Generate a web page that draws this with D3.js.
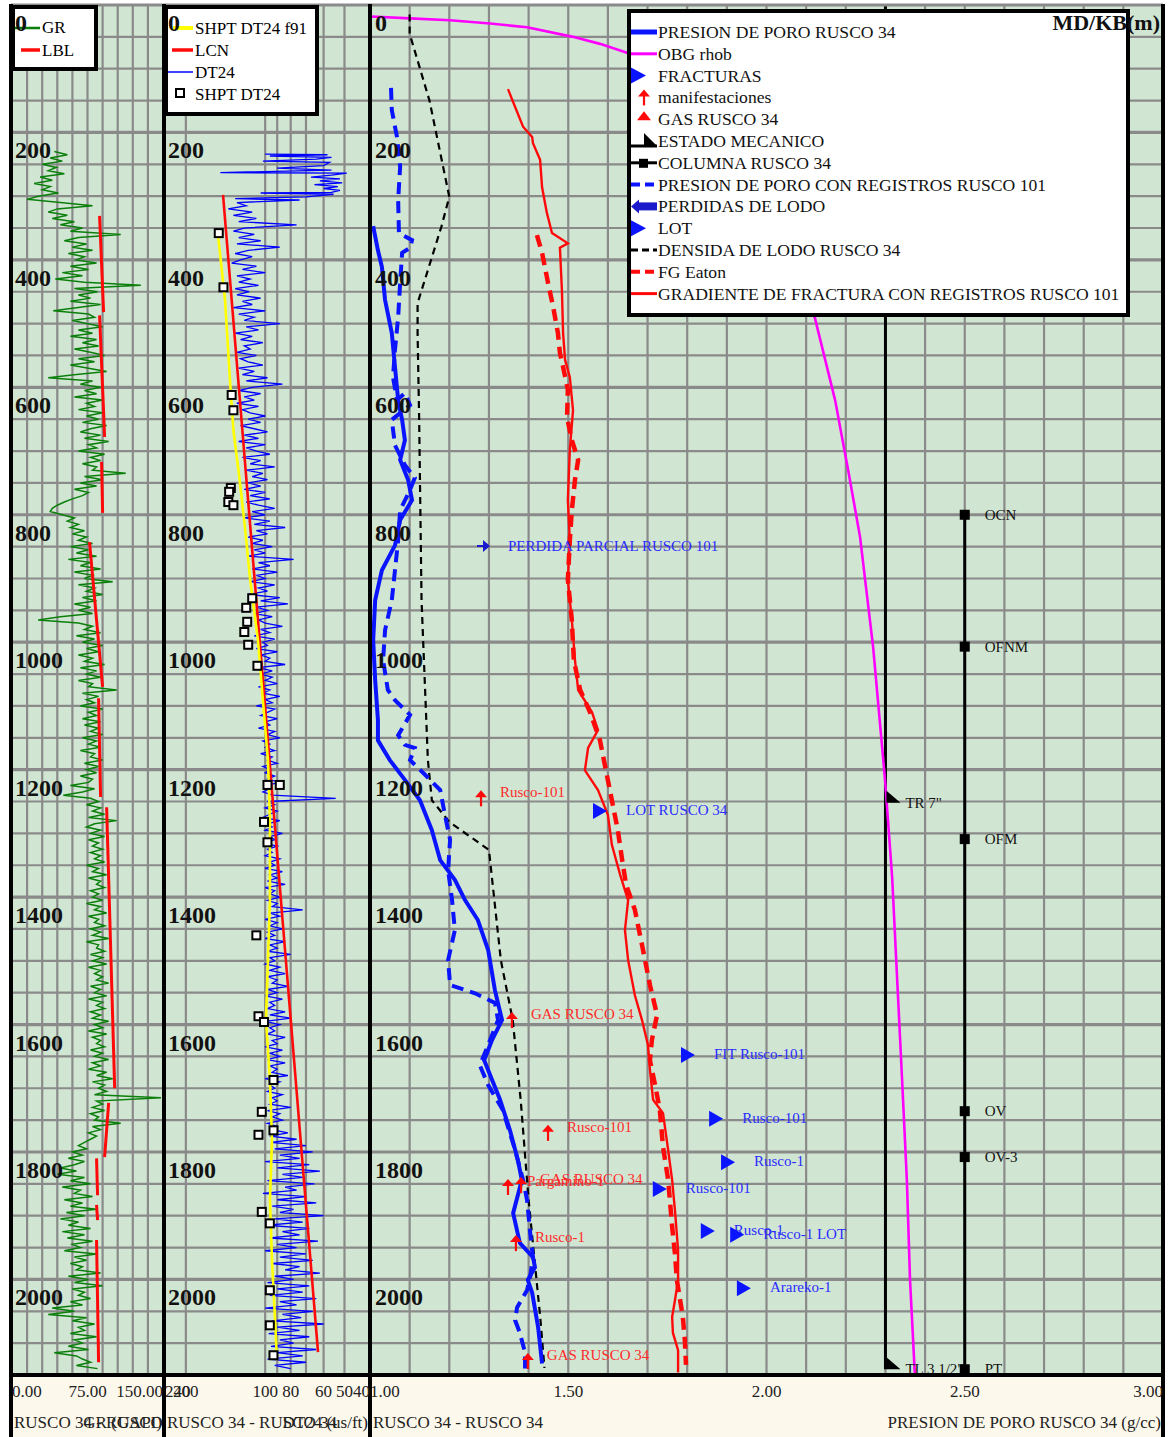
<!DOCTYPE html>
<html><head><meta charset="utf-8">
<script src="https://cdn.jsdelivr.net/npm/d3@7"></script>
<style>
body{margin:0;background:#fff;}
svg{display:block;font-family:"Liberation Serif","Times New Roman",serif;}
</style></head><body>
<svg id="chart" width="1171" height="1437"></svg>
<script>
// ---------- depth axis ----------
const depthLabels = [0,200,400,600,800,1000,1200,1400,1600,1800,2000];

// ---------- track 1 : gamma ray (sampled every 5 m from 230 m) ----------
const grStartDepth = 230, grStep = 5;
const grValues = [
 42,55,38,50,30,44,36,52,28,40,22,38,30,46,26,15,48,80,45,36,
 55,40,62,48,70,58,108,66,52,74,60,80,56,72,64,84,58,76,50,70,
 43,72,128,62,85,66,78,58,88,64,41,76,82,60,74,90,66,80,58,84,
 70,86,62,78,92,66,82,58,76,94,64,36,80,68,88,72,84,62,90,74,
 82,66,90,74,86,70,94,78,68,88,72,96,76,84,66,92,78,88,70,84,
 80,113,72,90,68,84,62,76,70,60,52,45,40,38,50,62,55,66,58,72,
 60,74,66,80,58,76,64,84,56,78,68,88,62,80,72,100,66,82,74,90,
 70,84,62,78,66,80,48,26,66,80,72,88,64,82,70,90,74,86,66,80,
 72,92,68,84,74,88,66,80,76,104,70,86,74,82,68,90,76,84,70,88,
 72,86,78,90,70,84,76,88,68,82,78,90,72,86,74,84,68,80,76,58,
 82,70,51,78,86,74,88,80,92,76,104,82,74,88,78,92,76,86,80,90,
 78,88,82,92,74,86,80,94,76,88,84,92,78,86,80,90,74,88,82,94,
 76,86,82,92,78,88,80,96,74,86,84,92,78,90,80,94,76,88,82,90,
 84,96,78,88,82,94,76,90,84,92,78,88,80,96,82,90,76,94,80,88,
 84,92,78,90,82,96,80,88,76,94,84,100,80,92,86,94,82,148,84,90,
 80,92,78,86,82,108,80,88,76,84,78,72,66,74,60,70,56,72,62,48,
 64,45,72,58,78,50,68,62,80,52,70,58,84,54,72,48,66,56,78,50,
 72,55,80,60,68,52,84,62,74,58,70,64,88,56,76,62,90,60,72,66,
 78,58,70,40,62,36,74,60,82,66,72,58,84,62,70,56,76,42,64,70,
 78,64,85];
// LBL segments: [depth top, value top, depth bottom, value bottom]
const lblSegments = [[331,87,482,91],[487,87,678,92],[717,89,797,90],[843,77,1070,90],[1088,86,1243,88],[1259,94,1700,102],[1723,96,1808,92],[1810,84,1868,85],[1883,84,1907,85],[1938,84,2130,86]];
const grTicks = [0,75,150];

// ---------- track 2 : sonic ----------
const dtTopData = [[234,100],[235,58],[237,96],[239,56],[242,64],[245,102],[247,57],[252,60],[256,90],[259,56],[263,148],[264,49],[267,56],[270,67],[273,52],[276,62],[279,51],[282,65],[285,53],[288,60],[291,52],[294,56],[295,104],[297,55],[301,70],[304,130],[306,74],[310,128],[315,118],[320,138],[325,112],[330,132],[335,108],[340,126],[345,76]];
const dtStartDepth = 350, dtStep = 5;
const dtValues = [
 120,132,110,126,104,128,88,116,130,112,124,134,108,122,100,128,114,126,106,130,
 115,128,104,122,112,132,100,126,110,120,88,118,106,130,112,124,102,120,114,128,
 108,124,116,102,126,110,122,98,118,86,112,126,104,120,110,128,106,122,114,100,
 116,104,124,110,98,120,106,126,100,118,108,96,122,104,114,92,118,102,112,98,
 116,104,120,100,114,96,118,106,92,112,100,120,96,110,84,108,98,116,102,112,
 94,110,100,116,78,106,96,112,90,108,100,114,92,106,98,116,88,104,82,108,
 98,110,94,106,100,86,104,96,110,92,102,98,108,90,104,96,100,84,106,94,
 104,94,100,90,106,96,102,88,100,94,108,92,98,104,90,100,96,106,92,98,
 88,102,96,100,92,104,94,98,90,102,96,100,92,98,88,100,96,102,94,54,
 98,92,100,90,96,102,88,98,94,100,86,96,92,102,90,98,94,100,88,96,
 92,100,86,96,90,98,84,100,92,96,88,98,90,94,72,96,88,100,90,96,
 86,98,92,100,84,96,90,98,80,96,92,100,88,96,84,98,90,94,82,98,
 90,100,86,96,92,98,84,96,80,100,88,96,92,98,84,94,90,100,86,96,
 88,98,84,96,90,94,82,100,88,96,92,98,86,94,90,96,80,98,88,94,
 86,98,90,94,82,96,76,
 95,70,92,66,88,74,100,68,90,62,86,72,98,65,84,76,102,70,90,64,94,78,88,60,92,72,99,68,86,74,96,63,90,76,100,70,
 88,66,94,74,84,62,92,78,98,68,90,72,96,64,88,76,100,66,86,73,94,60,90,74,97,68,88,78,95,64,90,72,98,70,92,80];
const lcnTrend = [[298,144.5],[2114,63]];
const shptF91 = [[361,151],[463,142],[589,136],[667,132],[745,125],[824,119],[902,114],[997,106.5],[1091,102],[1185,97.6],[1279,95.9],[1405,95.9],[1499,97.6],[1593,99.3],[1687,95.9],[1781,94.2],[1875,95.9],[1970,94.2],[2064,91.7],[2127,90.2]];
const shptPoints = [[358,150],[443,144],[612,134],[636,132],[758,135],[764,137],[780,138],[785,132],[931,112],[946,118],[968,117],[984,120],[1004,116],[1037,107],[1224,98],[1224,88],[1282,101],[1314,98],[1460,108],[1587,106],[1596,101],[1687,93],[1737,103],[1766,93],[1773,106],[1894,103],[1912,96],[2017,96],[2072,96],[2119,93]];
const dtTicks = [240,200,100,80,60,50,40];
const dtGrid = [200,100,90,80,70,60,50];

// ---------- track 3 : pressure gradients (g/cc) ----------
const obgRhob = [[18,1.000],[21,1.101],[24,1.202],[29,1.303],[35,1.396],[50,1.512],[61,1.580],[75,1.648],[100,1.73],[150,1.83],[200,1.89],[250,1.94],[300,1.98],[350,2.02],[400,2.05],[450,2.08],[491,2.122],[620,2.173],[730,2.206],[835,2.236],[1008,2.269],[1216,2.299],[1370,2.317],[1687,2.342],[1844,2.354],[2001,2.362],[2147,2.374]];
const porePressure34 = [[347,1.008],[385,1.020],[411,1.030],[463,1.038],[515,1.055],[568,1.063],[620,1.071],[651,1.081],[683,1.088],[714,1.076],[745,1.096],[777,1.106],[808,1.076],[848,1.063],[887,1.030],[934,1.013],[997,1.008],[1059,1.013],[1122,1.020],[1154,1.020],[1185,1.050],[1216,1.088],[1248,1.126],[1295,1.156],[1342,1.177],[1373,1.214],[1405,1.240],[1436,1.272],[1483,1.298],[1546,1.315],[1593,1.333],[1624,1.308],[1656,1.288],[1687,1.308],[1718,1.328],[1766,1.353],[1813,1.373],[1844,1.383],[1896,1.361],[1943,1.378],[1965,1.411],[1981,1.416],[2001,1.398],[2021,1.409],[2075,1.424],[2132,1.434]];
const porePressure101 = [[130,1.053],[165,1.055],[207,1.068],[254,1.076],[306,1.071],[358,1.073],[369,1.106],[381,1.101],[389,1.081],[436,1.076],[490,1.071],[541,1.063],[584,1.058],[620,1.068],[609,1.088],[628,1.101],[651,1.055],[691,1.063],[722,1.088],[742,1.113],[761,1.101],[793,1.076],[840,1.071],[887,1.063],[934,1.055],[981,1.038],[1028,1.033],[1075,1.045],[1091,1.063],[1114,1.101],[1146,1.071],[1161,1.088],[1166,1.113],[1185,1.101],[1208,1.139],[1232,1.177],[1271,1.189],[1310,1.202],[1358,1.197],[1405,1.207],[1452,1.214],[1499,1.197],[1538,1.202],[1551,1.265],[1566,1.315],[1593,1.323],[1632,1.298],[1664,1.277],[1695,1.298],[1734,1.335],[1797,1.366],[1844,1.386],[1875,1.396],[1927,1.404],[1965,1.411],[1996,1.404],[2017,1.396],[2044,1.371],[2064,1.366],[2084,1.378],[2115,1.391],[2146,1.391]];
const mudDensity34 = [[15,1.10],[45,1.10],[150,1.15],[301,1.20],[348,1.18],[468,1.12],[515,1.12],[651,1.124],[934,1.13],[1091,1.14],[1185,1.146],[1248,1.156],[1282,1.20],[1326,1.30],[1499,1.33],[1593,1.36],[1718,1.38],[1875,1.40],[2064,1.43],[2139,1.44]];
const fracGradient101 = [[132,1.348],[191,1.386],[207,1.409],[217,1.411],[243,1.429],[286,1.434],[326,1.446],[358,1.459],[374,1.499],[381,1.479],[447,1.484],[515,1.487],[557,1.492],[584,1.504],[636,1.512],[698,1.504],[777,1.499],[840,1.504],[902,1.499],[965,1.509],[1028,1.517],[1075,1.525],[1110,1.560],[1138,1.575],[1166,1.550],[1201,1.542],[1232,1.575],[1271,1.600],[1318,1.610],[1365,1.631],[1405,1.651],[1452,1.643],[1499,1.651],[1554,1.668],[1593,1.686],[1632,1.701],[1671,1.706],[1718,1.714],[1739,1.739],[1797,1.752],[1844,1.762],[1891,1.769],[1954,1.777],[2001,1.777],[2033,1.769],[2059,1.762],[2084,1.764],[2111,1.777],[2146,1.777]];
const fgEaton = [[361,1.421],[389,1.434],[436,1.449],[474,1.462],[515,1.474],[546,1.479],[568,1.487],[604,1.499],[647,1.497],[683,1.509],[714,1.525],[745,1.517],[793,1.509],[840,1.504],[902,1.499],[965,1.509],[1028,1.514],[1075,1.530],[1110,1.555],[1154,1.580],[1201,1.595],[1248,1.610],[1295,1.625],[1342,1.636],[1381,1.646],[1420,1.668],[1475,1.686],[1538,1.706],[1585,1.724],[1624,1.711],[1656,1.706],[1695,1.719],[1734,1.731],[1792,1.739],[1844,1.752],[1917,1.762],[1959,1.769],[2001,1.774],[2059,1.789],[2095,1.794],[2134,1.797]];
const casingValue = 2.30;
const casingShoes = [{d:1252,label:"TR 7\""},{d:2141,label:"TL 3 1/2\""}];
const columnValue = 2.50;
const formationTops = [{d:800,label:"OCN"},{d:1007,label:"OFNM"},{d:1309,label:"OFM"},{d:1736,label:"OV"},{d:1808,label:"OV-3"},{d:2141,label:"PT"}];
const fractureTests = [{d:1265,v:1.580,label:"LOT RUSCO 34"},{d:1648,v:1.802,label:"FIT Rusco-101"},{d:1748,v:1.873,label:"Rusco-101"},{d:1816,v:1.903,label:"Rusco-1"},{d:1858,v:1.731,label:"Rusco-101"},{d:1924,v:1.852,label:"Rusco-1"},{d:1930,v:1.926,label:"Rusco-1 LOT"},{d:2014,v:1.943,label:"Arareko-1"}];
const shows = [{d:1245,v:1.280,label:"Rusco-101"},{d:1770,v:1.449,label:"Rusco-101"},{d:1855,v:1.348,label:"Pargamino-1"},{d:1943,v:1.368,label:"Rusco-1"}];
const gasShows = [{d:1593,v:1.358,label:"GAS RUSCO 34"},{d:1852,v:1.381,label:"GAS RUSCO 34"},{d:2128,v:1.398,label:"GAS RUSCO 34"}];
const mudLosses = [{d:849,v:1.285,label:"PERDIDA PARCIAL RUSCO 101"}];
const pTicks = [1.0,1.5,2.0,2.5,3.0];
const legendItems = ["PRESION DE PORO RUSCO 34","OBG rhob","FRACTURAS","manifestaciones","GAS RUSCO 34","ESTADO MECANICO","COLUMNA RUSCO 34","PRESION DE PORO CON REGISTROS RUSCO 101","PERDIDAS DE LODO","LOT","DENSIDA DE LODO RUSCO 34","FG Eaton","GRADIENTE DE FRACTURA CON REGISTROS RUSCO 101"];

// ---------- layout ----------
const svg = d3.select("#chart");
const Y0 = 5, Y1 = 1375, XL = 11, XR = 1163;
const y = d3.scaleLinear().domain([0,2150]).range([Y0,Y1]);
const xGR = d3.scaleLinear().domain([0,150]).range([12,163]);
const xDT = d3.scaleLog().domain([240,40]).range([165,370]);
const xP = d3.scaleLinear().domain([1,3]).range([370,1163]);

const C = {bg:"#d1e6d2", grid:"#8a8a8a", blue:"#0a14ff", red:"#ff0a0a", pink:"#ff00ff", green:"#0b7f0b", textBlue:"#2b2bff", textRed:"#ff2a2a"};

svg.append("rect").attr("x",XL).attr("y",Y0).attr("width",XR-XL).attr("height",Y1-Y0).attr("fill",C.bg);
svg.append("rect").attr("x",XL+2).attr("y",Y1+2).attr("width",XR-XL-4).attr("height",1437-Y1-2).attr("fill","#fdf8ec");

// grid
const grid = svg.append("g");
grid.selectAll("line.h").data(d3.range(50,2150,50)).join("line")
  .attr("x1",XL).attr("x2",XR).attr("y1",d=>y(d)).attr("y2",d=>y(d))
  .attr("stroke",C.grid).attr("stroke-width",d=>d%200===0?3.2:2.2);
const vgrid = [].concat(
  d3.range(15,150,15).map(v=>xGR(v)),
  dtGrid.map(v=>xDT(v)),
  d3.range(11,30).map(i=>xP(i/10)));
grid.selectAll("line.v").data(vgrid).join("line")
  .attr("x1",d=>d).attr("x2",d=>d).attr("y1",Y0).attr("y2",Y1)
  .attr("stroke",C.grid).attr("stroke-width",2.2);

// clips
const defs = svg.append("defs");
[["c1",12,163],["c2",165,370],["c3",371,1162]].forEach(([id,a,b])=>{
  defs.append("clipPath").attr("id",id).append("rect").attr("x",a).attr("y",Y0).attr("width",b-a).attr("height",Y1-Y0);
});

// track 1
const t1 = svg.append("g").attr("clip-path","url(#c1)");
const grData = grValues.map((v,i)=>[grStartDepth+i*grStep,v]);
t1.append("path").datum(grData).attr("fill","none").attr("stroke",C.green).attr("stroke-width",1.5)
  .attr("d",d3.line().x(p=>xGR(p[1])).y(p=>y(p[0])));
t1.selectAll("line.lbl").data(lblSegments).join("line")
  .attr("x1",s=>xGR(s[1])).attr("y1",s=>y(s[0])).attr("x2",s=>xGR(s[3])).attr("y2",s=>y(s[2]))
  .attr("stroke",C.red).attr("stroke-width",3);

// track 2
const t2 = svg.append("g").attr("clip-path","url(#c2)");
const lineDT = d3.line().x(p=>xDT(p[1])).y(p=>y(p[0]));
const dtData = dtTopData.concat(dtValues.map((v,i)=>[dtStartDepth+i*dtStep,v]));
t2.append("path").datum(dtData).attr("fill","none").attr("stroke","#0000ff").attr("stroke-width",1.3).attr("d",lineDT);
t2.append("path").datum(lcnTrend).attr("fill","none").attr("stroke",C.red).attr("stroke-width",2.6).attr("d",lineDT);
t2.append("path").datum(shptF91).attr("fill","none").attr("stroke","#ffff00").attr("stroke-width",2.6).attr("d",lineDT);
t2.selectAll("rect.shpt").data(shptPoints).join("rect")
  .attr("x",p=>xDT(p[1])-4).attr("y",p=>y(p[0])-4).attr("width",8).attr("height",8)
  .attr("fill","#ffffff").attr("stroke","#000").attr("stroke-width",2);

// track 3
const t3 = svg.append("g").attr("clip-path","url(#c3)");
const lineP = d3.line().x(p=>xP(p[1])).y(p=>y(p[0]));
t3.append("line").attr("x1",xP(casingValue)).attr("x2",xP(casingValue)).attr("y1",y(0)).attr("y2",y(2141)).attr("stroke","#000").attr("stroke-width",3);
t3.append("line").attr("x1",xP(columnValue)).attr("x2",xP(columnValue)).attr("y1",y(formationTops[0].d)).attr("y2",y(2141)).attr("stroke","#000").attr("stroke-width",3);
t3.append("path").datum(obgRhob).attr("fill","none").attr("stroke",C.pink).attr("stroke-width",2.6).attr("d",lineP);
t3.append("path").datum(mudDensity34).attr("fill","none").attr("stroke","#000").attr("stroke-width",2.2).attr("stroke-dasharray","7,5").attr("d",lineP);
t3.append("path").datum(porePressure101).attr("fill","none").attr("stroke",C.blue).attr("stroke-width",4).attr("stroke-dasharray","12,7").attr("d",lineP);
t3.append("path").datum(porePressure34).attr("fill","none").attr("stroke",C.blue).attr("stroke-width",4).attr("d",lineP);
t3.append("path").datum(fgEaton).attr("fill","none").attr("stroke",C.red).attr("stroke-width",4.5).attr("stroke-dasharray","12,7").attr("d",lineP);
t3.append("path").datum(fracGradient101).attr("fill","none").attr("stroke",C.red).attr("stroke-width",2.4).attr("d",lineP);

// casing shoes
casingShoes.forEach(s=>{
  const cx = xP(casingValue), cy = y(s.d);
  t3.append("path").attr("d",`M${cx+1},${cy-12}L${cx+1},${cy}L${cx+15},${cy}Z`).attr("fill","#000");
  t3.append("text").attr("x",cx+20).attr("y",cy+5).attr("font-size",15).attr("fill","#111").text(s.label);
});
// formation tops
formationTops.forEach(f=>{
  const cx = xP(columnValue), cy = y(f.d);
  t3.append("rect").attr("x",cx-5).attr("y",cy-5).attr("width",10).attr("height",10).attr("fill","#000");
  t3.append("text").attr("x",cx+20).attr("y",cy+5).attr("font-size",15).attr("fill","#111").text(f.label);
});
// fracture / LOT tests
fractureTests.forEach(f=>{
  const cx = xP(f.v), cy = y(f.d);
  t3.append("path").attr("d",`M${cx-7},${cy-8}L${cx+7},${cy}L${cx-7},${cy+8}Z`).attr("fill",C.blue);
  t3.append("text").attr("x",cx+26).attr("y",cy+4).attr("font-size",15).attr("fill",C.textBlue).text(f.label);
});
// shows (arrows) and gas
function upArrow(g,cx,cy){
  g.append("line").attr("x1",cx).attr("x2",cx).attr("y1",cy-2).attr("y2",cy+8).attr("stroke",C.red).attr("stroke-width",2.2);
  g.append("path").attr("d",`M${cx},${cy-8}L${cx-6},${cy-1}L${cx+6},${cy-1}Z`).attr("fill",C.red);
}
shows.concat(gasShows).forEach(s=>{
  const cx = xP(s.v), cy = y(s.d);
  upArrow(t3,cx,cy);
  t3.append("text").attr("x",cx+19).attr("y",cy-1).attr("font-size",15).attr("fill",C.textRed).text(s.label);
});
// mud losses
mudLosses.forEach(m=>{
  const cx = xP(m.v), cy = y(m.d);
  t3.append("line").attr("x1",cx-6).attr("x2",cx+2).attr("y1",cy).attr("y2",cy).attr("stroke","#1a1acc").attr("stroke-width",2);
  t3.append("path").attr("d",`M${cx},${cy-6}L${cx+7},${cy}L${cx},${cy+6}Z`).attr("fill","#1a1acc");
  t3.append("text").attr("x",cx+25).attr("y",cy+5).attr("font-size",15).attr("fill",C.textBlue).text(m.label);
});

// frame
const frame = svg.append("g");
frame.append("line").attr("x1",XL).attr("x2",XR).attr("y1",Y0).attr("y2",Y0).attr("stroke",C.grid).attr("stroke-width",3);
[XL,164,370,XR].forEach(x=>{
  frame.append("line").attr("x1",x).attr("x2",x).attr("y1",Y0-1).attr("y2",1437).attr("stroke","#000").attr("stroke-width",4);
});
frame.append("line").attr("x1",XL).attr("x2",XR).attr("y1",Y1).attr("y2",Y1).attr("stroke","#000").attr("stroke-width",4);

// legends
function box(x,yy,w,h){
  svg.append("rect").attr("x",x).attr("y",yy).attr("width",w).attr("height",h).attr("fill","#fff").attr("stroke","#000").attr("stroke-width",4);
}
box(13,7,83,62);
svg.append("line").attr("x1",15).attr("x2",40).attr("y1",28).attr("y2",28).attr("stroke",C.green).attr("stroke-width",2.5);
svg.append("text").attr("x",42).attr("y",33).attr("font-size",17).text("GR");
svg.append("line").attr("x1",21).attr("x2",40).attr("y1",50).attr("y2",50).attr("stroke",C.red).attr("stroke-width",3.5);
svg.append("text").attr("x",42).attr("y",56).attr("font-size",17).text("LBL");

box(166,7,151,107);
const l2 = [["SHPT DT24 f91",28],["LCN",50],["DT24",72],["SHPT DT24",94]];
svg.append("line").attr("x1",173).attr("x2",193).attr("y1",28).attr("y2",28).attr("stroke","#ffff00").attr("stroke-width",4);
svg.append("line").attr("x1",172).attr("x2",193).attr("y1",50).attr("y2",50).attr("stroke",C.red).attr("stroke-width",3.5);
svg.append("line").attr("x1",168).attr("x2",193).attr("y1",72).attr("y2",72).attr("stroke","#0000ff").attr("stroke-width",1.5);
svg.append("rect").attr("x",176).attr("y",89).attr("width",8).attr("height",8).attr("fill","#fff").attr("stroke","#000").attr("stroke-width",2);
l2.forEach(([t,yy])=>svg.append("text").attr("x",195).attr("y",yy+6).attr("font-size",17).text(t));

box(629,11,499,304);
const lg = svg.append("g");
legendItems.forEach((t,i)=>{
  const cy = 32 + i*21.8;
  const g = lg.append("g");
  switch(i){
    case 0: g.append("line").attr("x1",631).attr("x2",657).attr("y1",cy).attr("y2",cy).attr("stroke",C.blue).attr("stroke-width",5); break;
    case 1: g.append("line").attr("x1",631).attr("x2",657).attr("y1",cy).attr("y2",cy).attr("stroke",C.pink).attr("stroke-width",3); break;
    case 2: case 9: g.append("path").attr("d",`M631,${cy-8}L646,${cy}L631,${cy+8}Z`).attr("fill",C.blue); break;
    case 3: upArrow(g,644,cy); break;
    case 4: g.append("path").attr("d",`M644,${cy-8}L637,${cy+1}L651,${cy+1}Z`).attr("fill",C.red); break;
    case 5: g.append("line").attr("x1",631).attr("x2",657).attr("y1",cy+5).attr("y2",cy+5).attr("stroke","#000").attr("stroke-width",3);
            g.append("path").attr("d",`M644,${cy-8}L644,${cy+5}L657,${cy+5}Z`).attr("fill","#000"); break;
    case 6: g.append("line").attr("x1",631).attr("x2",657).attr("y1",cy).attr("y2",cy).attr("stroke","#000").attr("stroke-width",3);
            g.append("rect").attr("x",639).attr("y",cy-4).attr("width",9).attr("height",9).attr("fill","#000"); break;
    case 7: g.append("line").attr("x1",631).attr("x2",657).attr("y1",cy).attr("y2",cy).attr("stroke",C.blue).attr("stroke-width",4).attr("stroke-dasharray","9,5"); break;
    case 8: g.append("line").attr("x1",636).attr("x2",657).attr("y1",cy).attr("y2",cy).attr("stroke","#1a1acc").attr("stroke-width",8);
            g.append("path").attr("d",`M631,${cy}L639,${cy-7}L639,${cy+7}Z`).attr("fill","#1a1acc"); break;
    case 10: g.append("line").attr("x1",631).attr("x2",657).attr("y1",cy).attr("y2",cy).attr("stroke","#000").attr("stroke-width",3).attr("stroke-dasharray","7,4"); break;
    case 11: g.append("line").attr("x1",631).attr("x2",657).attr("y1",cy).attr("y2",cy).attr("stroke",C.red).attr("stroke-width",4).attr("stroke-dasharray","9,5"); break;
    case 12: g.append("line").attr("x1",631).attr("x2",657).attr("y1",cy).attr("y2",cy).attr("stroke",C.red).attr("stroke-width",3); break;
  }
  g.append("text").attr("x",658).attr("y",cy+6).attr("font-size",17.6).attr("fill","#111").text(t);
});
svg.append("text").attr("x",1160).attr("y",30).attr("text-anchor","end").attr("font-size",22).attr("font-weight","bold").attr("fill","#111").text("MD/KB(m)");

// depth labels in every track
[15,168,375].forEach(x=>{
  svg.append("g").selectAll("text").data(depthLabels).join("text")
    .attr("x",x).attr("y",d=>y(d)+26).attr("font-size",24).attr("font-weight","bold").attr("fill","#111")
    .text(d=>d);
});

// bottom axis labels
function tickRow(ticks,scale,fmt){
  svg.append("g").selectAll("text").data(ticks).join("text")
    .attr("x",d=>scale(d)).attr("y",1397).attr("font-size",17).attr("fill","#222")
    .attr("text-anchor",(d,i)=>i===0?"start":(i===ticks.length-1?"end":"middle"))
    .text(fmt);
}
tickRow(grTicks,xGR,d3.format(".2f"));
tickRow(dtTicks,xDT,d=>d);
tickRow(pTicks,xP,d3.format(".2f"));

// bottom titles
[["b1",12,163],["b2",165,369],["b3",371,1162]].forEach(([id,a,b])=>{
  defs.append("clipPath").attr("id",id).append("rect").attr("x",a).attr("y",Y1+2).attr("width",b-a).attr("height",60);
});
const titles = [["b1",14,"GR (GAPI)",162],["b2",167,"DT24 (us/ft)",368],["b3",373,"PRESION DE PORO RUSCO 34 (g/cc)",1161]];
titles.forEach(([id,x,t,xe])=>{
  const g = svg.append("g").attr("clip-path",`url(#${id})`);
  g.append("text").attr("x",x).attr("y",1428).attr("font-size",17).attr("fill","#222").text("RUSCO 34 - RUSCO 34");
  g.append("text").attr("x",xe).attr("y",1428).attr("font-size",17).attr("fill","#222").attr("text-anchor","end").text(t);
});
</script></body></html>
